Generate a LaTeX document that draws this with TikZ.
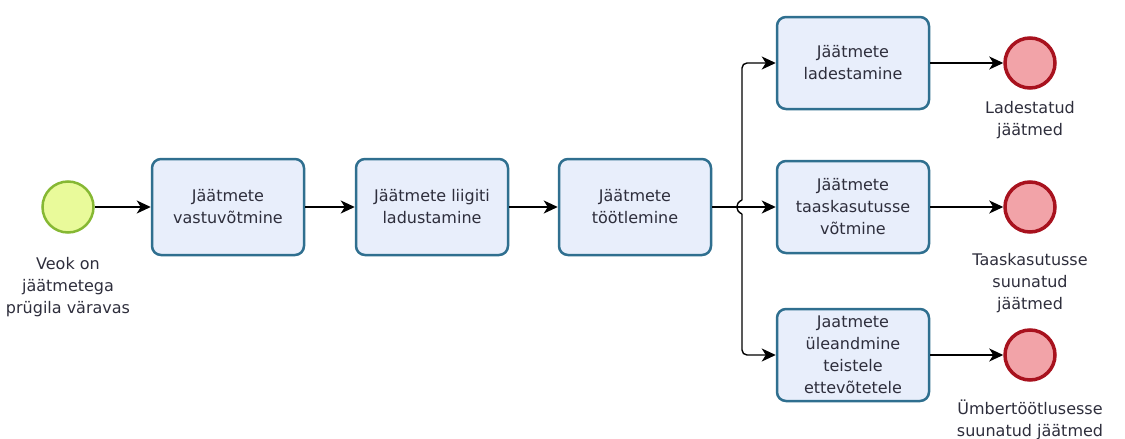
\documentclass[tikz,border=0pt]{standalone}
\usepackage{fontspec}
\setmainfont{DejaVu Sans}
\usetikzlibrary{arrows.meta}
\definecolor{taskline}{HTML}{2F6F8F}
\definecolor{taskfill}{HTML}{E8EEFB}
\definecolor{startline}{HTML}{86B833}
\definecolor{startfill}{HTML}{E9FA9A}
\definecolor{endline}{HTML}{A8121E}
\definecolor{endfill}{HTML}{F2A3A8}
\definecolor{txt}{HTML}{2E2E3C}
\tikzset{
    task/.style={draw=taskline, fill=taskfill, line width=2.5pt, rounded corners=9pt,
        minimum width=152pt, minimum height=96pt, align=center, text=txt,
        font=\fontsize{16}{22}\selectfont, inner sep=0pt},
    task2/.style={task, minimum height=92pt},
    startev/.style={circle, draw=startline, fill=startfill, line width=2.5pt, minimum size=51pt, inner sep=0pt},
    endev/.style={circle, draw=endline, fill=endfill, line width=3.5pt, minimum size=50pt, inner sep=0pt},
    evlabel/.style={align=center, text=txt, font=\fontsize{16}{22}\selectfont, inner sep=0pt},
    flow/.style={line width=1.4pt, -{Stealth[length=14pt,width=13pt,inset=4pt]}}
}
\begin{document}
\begin{tikzpicture}[x=1pt, y=-1pt]
    \useasboundingbox (0,0) rectangle (1125,439);

    % start
    \node[startev] (start) at (68,207) {};
    \node[evlabel] (startlbl) at (68,287) {Veok on\\jäätmetega\\prügila väravas};

    % tasks in a row
    \node[task] (vastu) at (228,207) {Jäätmete\\vastuvõtmine};
    \node[task] (ladust) at (432,207) {Jäätmete liigiti\\ladustamine};
    \node[task] (tootl) at (635,207) {Jäätmete\\töötlemine};

    \node[task2] (ladest) at (853,63) {Jäätmete\\ladestamine};
    \node[task2] (taask) at (853,207) {Jäätmete\\taaskasutusse\\võtmine};
    \node[task2] (ulean) at (853,355) {Jaatmete\\üleandmine\\teistele\\ettevõtetele};

    % ends
    \node[endev] (end1) at (1030,63) {};
    \node[endev] (end2) at (1030,207) {};
    \node[endev] (end3) at (1030,355) {};
    \node[evlabel] (end1lbl) at (1030,120) {Ladestatud\\jäätmed};
    \node[evlabel] (end2lbl) at (1030,283) {Taaskasutusse\\suunatud\\jäätmed};
    \node[evlabel] (end3lbl) at (1030,420) {Ümbertöötlusesse\\suunatud jäätmed};

    \draw[flow] (start) -- (vastu);
    \draw[flow] (vastu) -- (ladust);
    \draw[flow] (ladust) -- (tootl);
    \draw[flow] (tootl) -- (taask);

    % split with a hop over the middle line
    \coordinate (hoptop) at (742,200);
    \coordinate (hopbot) at (742,214);
    \draw[line width=1.4pt] (hoptop) .. controls (735,203) and (735,211) .. (hopbot);
    \draw[flow, rounded corners=5pt] (hoptop) |- (ladest);
    \draw[flow, rounded corners=5pt] (hopbot) |- (ulean);

    \draw[flow] (ladest) -- (end1);
    \draw[flow] (taask) -- (end2);
    \draw[flow] (ulean) -- (end3);
\end{tikzpicture}
\end{document}
